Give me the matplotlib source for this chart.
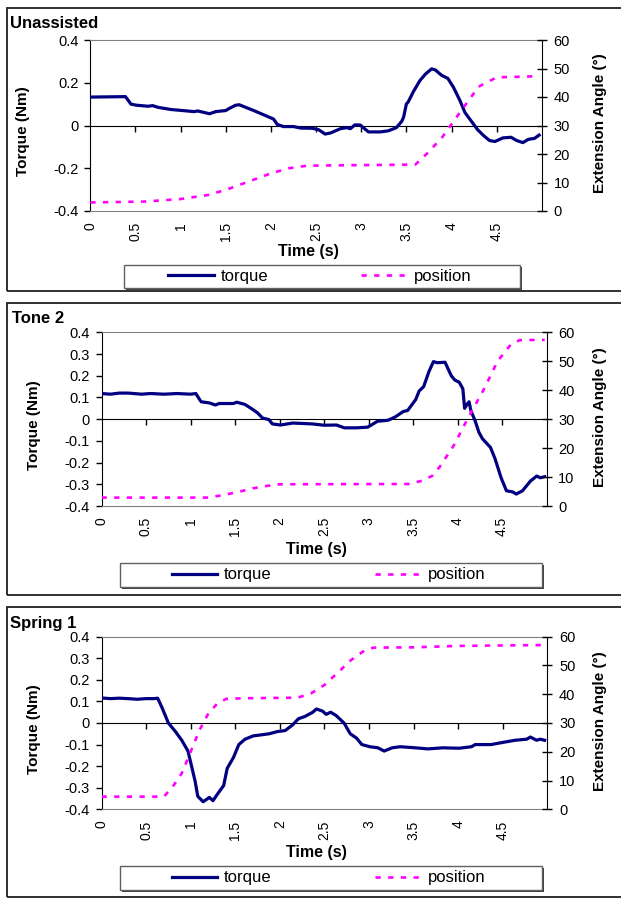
import matplotlib.pyplot as plt
from matplotlib.patches import Rectangle
from matplotlib.lines import Line2D

plt.rcParams['font.family'] = ['Liberation Sans', 'DejaVu Sans']
plt.rcParams['axes.unicode_minus'] = False

# ---- data ----
time_ticks = [0, 0.5, 1, 1.5, 2, 2.5, 3, 3.5, 4, 4.5]
time_labels = ["0", "0.5", "1", "1.5", "2", "2.5", "3", "3.5", "4", "4.5"]
angle_ticks = [0, 10, 20, 30, 40, 50, 60]

torque_ticks_a = [-0.4, -0.2, 0, 0.2, 0.4]
torque_labels_a = ["-0.4", "-0.2", "0", "0.2", "0.4"]
torque_ticks_b = [-0.4, -0.3, -0.2, -0.1, 0, 0.1, 0.2, 0.3, 0.4]
torque_labels_b = ["-0.4", "-0.3", "-0.2", "-0.1", "0", "0.1", "0.2", "0.3", "0.4"]

# Unassisted
t_torque_1 = [0, 0.39, 0.45, 0.51, 0.64, 0.69, 0.75, 0.89, 1.02, 1.15, 1.19, 1.32, 1.39, 1.5, 1.54,
              1.61, 1.65, 1.72, 1.81, 1.92, 2.03, 2.07, 2.14, 2.25, 2.33, 2.46, 2.53, 2.6, 2.66, 2.77,
              2.84, 2.88, 2.93, 2.99, 3.08, 3.21, 3.3, 3.39, 3.45, 3.47, 3.5, 3.52, 3.58, 3.65, 3.71,
              3.78, 3.82, 3.89, 3.96, 4.02, 4.09, 4.15, 4.22, 4.29, 4.35, 4.42, 4.48, 4.57, 4.66, 4.72,
              4.79, 4.85, 4.92, 4.97]
torque_1 = [0.133, 0.135, 0.10, 0.095, 0.09, 0.093, 0.085, 0.075, 0.07, 0.065, 0.068, 0.055, 0.065, 0.07, 0.08,
            0.095, 0.097, 0.085, 0.07, 0.05, 0.03, 0.005, -0.005, -0.005, -0.012, -0.013, -0.02, -0.04, -0.035, -0.015,
            -0.01, -0.015, 0.003, 0.002, -0.03, -0.03, -0.025, -0.01, 0.02, 0.04, 0.10, 0.11, 0.16, 0.21, 0.24,
            0.265, 0.26, 0.235, 0.22, 0.18, 0.12, 0.06, 0.02, -0.02, -0.045, -0.07, -0.075, -0.058, -0.055, -0.07,
            -0.08, -0.065, -0.06, -0.045]
t_pos_1 = [0, 0.6, 1.0, 1.3, 1.5, 1.75, 2.0, 2.2, 2.4, 3.6, 3.75, 3.9, 4.1, 4.3, 4.5, 4.97]
pos_1 = [3.0, 3.3, 4.2, 5.6, 7.4, 10.3, 13.2, 15.0, 15.9, 16.3, 20.8, 26.0, 34.9, 43.6, 46.9, 47.3]

# Tone 2
t_torque_2 = [0, 0.1, 0.2, 0.3, 0.45, 0.55, 0.7, 0.85, 1.0, 1.06, 1.1, 1.12, 1.21, 1.28, 1.32,
              1.48, 1.52, 1.61, 1.68, 1.75, 1.81, 1.88, 1.92, 2.01, 2.15, 2.37, 2.5, 2.64, 2.73, 2.86,
              2.99, 3.04, 3.1, 3.22, 3.3, 3.39, 3.44, 3.53, 3.57, 3.62, 3.68, 3.73, 3.77, 3.86, 3.93,
              3.97, 4.02, 4.06, 4.08, 4.11, 4.13, 4.15, 4.2, 4.24, 4.28, 4.37, 4.42, 4.49, 4.55, 4.62,
              4.66, 4.73, 4.82, 4.89, 4.93, 4.98]
torque_2 = [0.118, 0.115, 0.12, 0.12, 0.115, 0.118, 0.115, 0.118, 0.115, 0.118, 0.092, 0.08, 0.075, 0.065, 0.072,
            0.072, 0.078, 0.068, 0.05, 0.03, 0.005, -0.002, -0.022, -0.027, -0.018, -0.022, -0.028, -0.027, -0.04, -0.04,
            -0.037, -0.025, -0.01, -0.005, 0.01, 0.035, 0.04, 0.09, 0.13, 0.15, 0.22, 0.265, 0.26, 0.262, 0.2,
            0.18, 0.17, 0.14, 0.05, 0.07, 0.08, 0.04, -0.01, -0.06, -0.09, -0.13, -0.18, -0.27, -0.33, -0.335,
            -0.345, -0.33, -0.285, -0.262, -0.27, -0.265]
t_pos_2 = [0, 1.2, 1.35, 1.5, 1.7, 1.85, 2.0, 3.45, 3.6, 3.72, 3.8, 3.96, 4.12, 4.3, 4.45, 4.6, 4.7, 4.98]
pos_2 = [2.9, 2.9, 3.7, 4.6, 6.1, 6.9, 7.5, 7.6, 8.7, 10.5, 13.5, 21, 30.5, 40.5, 50, 55.8, 57.3, 57.4]

# Spring 1
t_torque_3 = [0, 0.1, 0.2, 0.3, 0.4, 0.5, 0.59, 0.63, 0.68, 0.72, 0.75, 0.83, 0.9, 0.97, 1.01,
              1.05, 1.08, 1.14, 1.21, 1.25, 1.3, 1.37, 1.41, 1.48, 1.54, 1.61, 1.7, 1.88, 1.97, 2.06,
              2.14, 2.21, 2.28, 2.37, 2.41, 2.48, 2.52, 2.57, 2.63, 2.72, 2.79, 2.86, 2.92, 3.01, 3.1,
              3.17, 3.26, 3.35, 3.52, 3.66, 3.83, 4.01, 4.15, 4.19, 4.37, 4.5, 4.64, 4.77, 4.81, 4.88,
              4.92, 4.97]
torque_3 = [0.116, 0.113, 0.115, 0.113, 0.11, 0.113, 0.113, 0.115, 0.07, 0.03, 0.0, -0.04, -0.08, -0.13, -0.2,
            -0.27, -0.34, -0.365, -0.345, -0.36, -0.33, -0.29, -0.21, -0.16, -0.1, -0.075, -0.06, -0.05, -0.04, -0.035,
            -0.01, 0.02, 0.03, 0.05, 0.065, 0.055, 0.04, 0.05, 0.035, 0.0, -0.05, -0.07, -0.1, -0.11, -0.115,
            -0.13, -0.115, -0.11, -0.115, -0.12, -0.115, -0.117, -0.11, -0.1, -0.1, -0.09, -0.08, -0.075, -0.065, -0.08,
            -0.075, -0.08]
t_pos_3 = [0, 0.7, 0.8, 0.9, 1.0, 1.1, 1.2, 1.3, 1.4, 1.6, 2.2, 2.35, 2.5, 2.65, 2.8, 2.95, 3.05, 3.5, 4.0, 4.97]
pos_3 = [4.4, 4.4, 7.9, 12.5, 20, 27.6, 33.4, 36.8, 38.4, 38.6, 38.8, 40.3, 43.2, 47.5, 51.9, 55.2, 56.2, 56.3, 56.8, 57.1]

W, H = 621, 899
NAVY = "#000080"
MAGENTA = "#FF00FF"
DOTS = (0, (2.0, 2.8))
fig = plt.figure(figsize=(W / 100, H / 100), dpi=100)


def fx(x):
    return x / W


def fy(y):
    return 1 - y / H


def panel(title, t_tq, tq, t_pos, pos, yticks, ylabels, lay):
    (top, bottom, left, right, title_xy, ylab_x, xlab_y, frame_tb, leg_box, leg_x) = lay

    # outer chart frame (runs off the right edge like the original)
    fig.add_artist(Rectangle((fx(7), fy(frame_tb[1])), fx(630), frame_tb[1] / H - frame_tb[0] / H,
                             transform=fig.transFigure, fill=False, lw=1.3, ec="#202020"))

    ax = fig.add_axes([fx(left), fy(bottom), fx(right - left), (bottom - top) / H])
    ax.plot(t_tq, tq, color=NAVY, lw=2.3, solid_joinstyle="round", zorder=3)
    ax.set_xlim(0, 5)
    ax.set_ylim(-0.4, 0.4)
    ax.set_xticks(time_ticks, time_labels, rotation=90)
    ax.set_yticks(yticks, ylabels)
    ax.tick_params(axis="x", length=0, pad=8, labelsize=10)
    ax.tick_params(axis="y", direction="out", length=4.5, width=1, pad=4, labelsize=10.5)
    for s in ("top", "bottom"):
        ax.spines[s].set_color("#808080")
    ax.spines["left"].set_color("black")
    ax.spines["right"].set_visible(False)

    # x axis line crossing at torque = 0
    zero = ax.secondary_xaxis(0.5)
    zero.set_alignment("bottom")
    zero.set_xticks(time_ticks[1:])
    zero.tick_params(direction="out", length=4.5, width=1, labelbottom=False, labeltop=False)
    zero.spines["bottom"].set_color("black")

    ax2 = ax.twinx()
    ax2.plot(t_pos, pos, color=MAGENTA, lw=1.9, linestyle=DOTS, dash_capstyle="butt", zorder=2)
    ax2.set_ylim(0, 60)
    ax2.set_yticks(angle_ticks)
    ax2.tick_params(axis="y", direction="inout", length=7, width=1, pad=5, labelsize=10.5)
    for s in ("top", "bottom", "left"):
        ax2.spines[s].set_visible(False)
    ax2.spines["right"].set_color("black")

    fig.text(fx(title_xy[0]), fy(title_xy[1]), title, fontsize=12, fontweight="bold",
             ha="left", va="baseline")
    yc = (top + bottom) / 2
    fig.text(fx(ylab_x), fy(yc + 6), "Torque (Nm)", rotation=90, fontsize=11, fontweight="bold",
             ha="center", va="center")
    fig.text(fx(600), fy(yc - 2), "Extension Angle (°)", rotation=90, fontsize=11, fontweight="bold",
             ha="center", va="center")
    fig.text(fx((left + right) / 2 - 8), fy(xlab_y), "Time (s)", fontsize=11.5, fontweight="bold",
             ha="center", va="center")

    # legend box with shadow
    bx0, by0, bx1, by1 = leg_box
    fig.add_artist(Rectangle((fx(bx0 + 2), fy(by1 + 2)), fx(bx1 - bx0), (by1 - by0) / H,
                             transform=fig.transFigure, fc="#404040", ec="none"))
    fig.add_artist(Rectangle((fx(bx0), fy(by1)), fx(bx1 - bx0), (by1 - by0) / H,
                             transform=fig.transFigure, fc="white", ec="#606060", lw=1))
    yc_leg = (by0 + by1) / 2
    h_tq = Line2D([], [], color=NAVY, lw=2.3)
    h_pos = Line2D([], [], color=MAGENTA, lw=1.9, linestyle=DOTS, dash_capstyle="butt")
    for h, lab, x0 in ((h_tq, "torque", leg_x[0]), (h_pos, "position", leg_x[1])):
        fig.legend([h], [lab], loc="center left", bbox_to_anchor=(fx(x0), fy(yc_leg)),
                   frameon=False, borderpad=0, borderaxespad=0, handlelength=2.75,
                   handletextpad=0.4, fontsize=12)


layouts = [
    (40, 211, 90.3, 541.8, (10, 28.3), 22.6, 251.7, (8, 291),
     (123.6, 265, 519.6, 288), (168, 361)),
    (332.3, 506, 101.5, 546.5, (12.5, 322.7), 33.7, 549.3, (302.7, 595),
     (120, 562.7, 541.8, 587.3), (171.5, 375.4)),
    (636.7, 809.3, 101.5, 547.3, (9.9, 628.3), 33.7, 852.7, (607.3, 896.7),
     (120, 865.7, 541.8, 890), (171.5, 375.4)),
]

panel("Unassisted", t_torque_1, torque_1, t_pos_1, pos_1, torque_ticks_a, torque_labels_a, layouts[0])
panel("Tone 2", t_torque_2, torque_2, t_pos_2, pos_2, torque_ticks_b, torque_labels_b, layouts[1])
panel("Spring 1", t_torque_3, torque_3, t_pos_3, pos_3, torque_ticks_b, torque_labels_b, layouts[2])

fig.savefig("out.png", dpi=100, facecolor="white")
